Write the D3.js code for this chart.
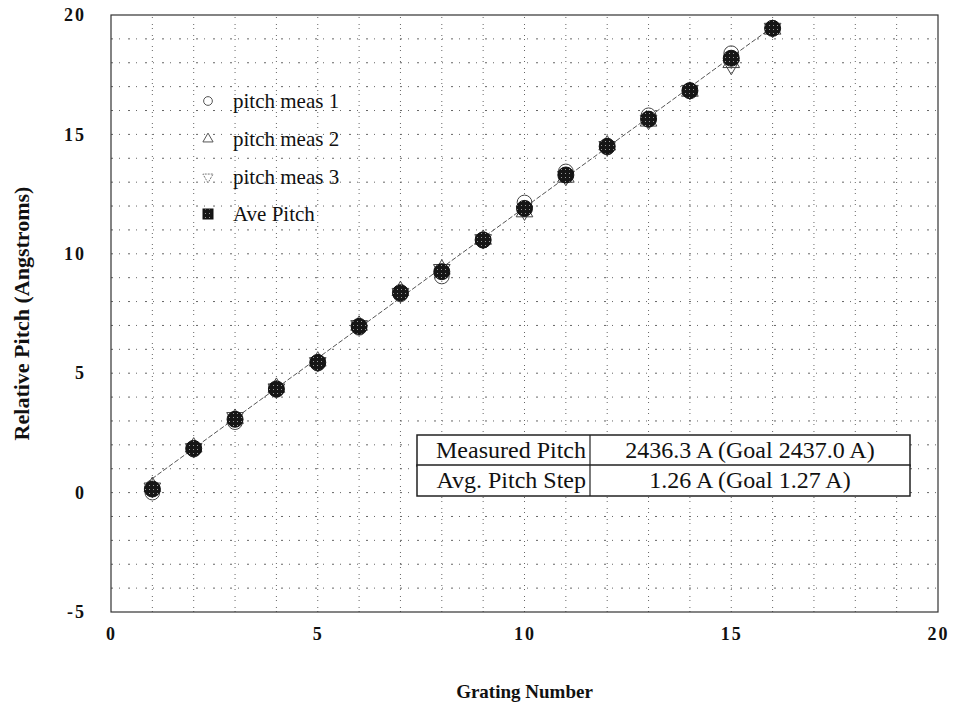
<!DOCTYPE html>
<html>
<head>
<meta charset="utf-8">
<script src="https://cdn.jsdelivr.net/npm/d3@7"></script>
<style>
  body { margin: 0; background: #fff; }
</style>
</head>
<body>
<div id="chart"></div>
<script>
// Grating numbers and measured pitch offsets (Angstroms)
const grating = [1, 2, 3, 4, 5, 6, 7, 8, 9, 10, 11, 12, 13, 14, 15, 16];
const meas1 = [0.0, 1.8, 2.95, 4.3, 5.4, 6.9, 8.3, 9.05, 10.55, 12.15, 13.45, 14.45, 15.8, 16.85, 18.4, 19.45];
const meas2 = [0.25, 1.9, 3.1, 4.4, 5.5, 7.0, 8.45, 9.35, 10.6, 11.75, 13.2, 14.55, 15.55, 16.8, 18.0, 19.4];
const meas3 = [0.2, 1.85, 3.15, 4.35, 5.45, 7.0, 8.35, 9.35, 10.6, 11.8, 13.25, 14.5, 15.6, 16.85, 17.9, 19.45];
const avePitch = [0.15, 1.85, 3.07, 4.34, 5.45, 6.96, 8.37, 9.25, 10.58, 11.9, 13.3, 14.5, 15.64, 16.83, 18.19, 19.44];
// fitted line end points
const fitX = [0.85, 16];
const fitY = [0.4, 19.5];

const xTicks = [0, 5, 10, 15, 20];
const yTicks = [-5, 0, 5, 10, 15, 20];
const legendLabels = ["pitch meas 1", "pitch meas 2", "pitch meas 3", "Ave Pitch"];
const tableRows = [
  ["Measured Pitch", "2436.3 A (Goal 2437.0 A)"],
  ["Avg. Pitch Step", "1.26 A (Goal 1.27 A)"]
];

const serif = "'Liberation Serif', 'Times New Roman', 'DejaVu Serif', serif";
const width = 956, height = 709;
const margin = {top: 15, right: 18, bottom: 97, left: 111};

const svg = d3.select("#chart")
  .append("svg")
    .attr("width", width)
    .attr("height", height)
    .style("font-family", serif);

// speckled fill for the average markers
const defs = svg.append("defs");
const pat = defs.append("pattern")
  .attr("id", "speck")
  .attr("width", 4).attr("height", 4)
  .attr("patternUnits", "userSpaceOnUse");
pat.append("rect").attr("width", 4).attr("height", 4).attr("fill", "#161616");
pat.append("rect").attr("x", 1).attr("y", 1).attr("width", 1).attr("height", 1).attr("fill", "#999");

const x = d3.scaleLinear().domain([0, 20]).range([margin.left, width - margin.right]);
const y = d3.scaleLinear().domain([-5, 20]).range([height - margin.bottom, margin.top]);

// grid, one line per unit
const g = svg.append("g");
g.selectAll(".vgrid")
  .data(d3.range(1, 20))
  .join("line")
    .attr("x1", d => x(d)).attr("x2", d => x(d))
    .attr("y1", y(-5)).attr("y2", y(20))
    .attr("stroke", "#666")
    .attr("stroke-width", 1)
    .attr("stroke-dasharray", "1,3,1,6");
g.selectAll(".hgrid")
  .data(d3.range(-4, 20))
  .join("line")
    .attr("x1", x(0)).attr("x2", x(20))
    .attr("y1", d => y(d)).attr("y2", d => y(d))
    .attr("stroke", "#666")
    .attr("stroke-width", 1)
    .attr("stroke-dasharray", "2,6,1,8");

// frame
svg.append("rect")
  .attr("x", x(0)).attr("y", y(20))
  .attr("width", x(20) - x(0))
  .attr("height", y(-5) - y(20))
  .attr("fill", "none")
  .attr("stroke", "#333")
  .attr("stroke-width", 1.2);

// axes (labels only, the grid carries the ticks)
const xAxis = svg.append("g")
  .attr("transform", `translate(0,${y(-5) + 12})`)
  .call(d3.axisBottom(x).tickValues(xTicks).tickSize(0));
const yAxis = svg.append("g")
  .attr("transform", `translate(${x(0) - 22},0)`)
  .call(d3.axisLeft(y).tickValues(yTicks).tickSize(0).tickFormat(d => d < 0 ? "-" + Math.abs(d) : d));
[xAxis, yAxis].forEach(a => {
  a.attr("font-family", serif);
  a.select(".domain").remove();
  a.selectAll("text")
    .attr("font-weight", "bold")
    .attr("font-size", 18)
    .attr("letter-spacing", 2)
    .attr("fill", "#111");
});

svg.append("text")
  .attr("x", (x(0) + x(20)) / 2)
  .attr("y", 698)
  .attr("text-anchor", "middle")
  .attr("font-weight", "bold")
  .attr("font-size", 19)
  .attr("fill", "#111")
  .text("Grating Number");

svg.append("text")
  .attr("transform", `translate(29,${(y(-5) + y(20)) / 2}) rotate(-90)`)
  .attr("text-anchor", "middle")
  .attr("font-weight", "bold")
  .attr("font-size", 22)
  .attr("fill", "#111")
  .text("Relative Pitch (Angstroms)");

// fit line
svg.append("line")
  .attr("x1", x(fitX[0])).attr("y1", y(fitY[0]))
  .attr("x2", x(fitX[1])).attr("y2", y(fitY[1]))
  .attr("stroke", "#555")
  .attr("stroke-width", 1)
  .attr("stroke-dasharray", "5,2");

// marker shapes
const sym = {
  circle: d3.symbol(d3.symbolCircle, 170),
  tri: d3.symbol(d3.symbolTriangle, 120),
  down: d3.symbol(d3.symbolTriangle, 120)
};

function drawSeries(vals, shape, rot) {
  svg.append("g").selectAll("path")
    .data(grating.map((gn, i) => ({gn: gn, v: vals[i]})))
    .join("path")
      .attr("d", shape)
      .attr("transform", d => `translate(${x(d.gn)},${y(d.v)}) rotate(${rot})`)
      .attr("fill", "none")
      .attr("stroke", "#444")
      .attr("stroke-width", 1);
}
drawSeries(meas1, sym.circle, 0);
drawSeries(meas2, sym.tri, 0);
drawSeries(meas3, sym.down, 180);

svg.append("g").selectAll("circle")
  .data(grating.map((gn, i) => ({gn: gn, v: avePitch[i]})))
  .join("circle")
    .attr("cx", d => x(d.gn))
    .attr("cy", d => y(d.v))
    .attr("r", 8)
    .attr("fill", "url(#speck)")
    .attr("stroke", "#111")
    .attr("stroke-width", 1);

// legend
const legendY = [101, 139, 177, 214];
const leg = svg.append("g");
legendLabels.forEach((lab, i) => {
  const lx = 208, ly = legendY[i];
  if (i === 0) {
    leg.append("path").attr("d", d3.symbol(d3.symbolCircle, 60)())
      .attr("transform", `translate(${lx},${ly})`)
      .attr("fill", "none").attr("stroke", "#555");
  } else if (i === 1) {
    leg.append("path").attr("d", d3.symbol(d3.symbolTriangle, 45)())
      .attr("transform", `translate(${lx},${ly})`)
      .attr("fill", "none").attr("stroke", "#555");
  } else if (i === 2) {
    leg.append("path").attr("d", d3.symbol(d3.symbolTriangle, 45)())
      .attr("transform", `translate(${lx},${ly}) rotate(180)`)
      .attr("fill", "none").attr("stroke", "#777").attr("stroke-dasharray", "2,1");
  } else {
    leg.append("rect")
      .attr("x", lx - 5).attr("y", ly - 5)
      .attr("width", 10).attr("height", 10)
      .attr("fill", "url(#speck)").attr("stroke", "#111");
  }
  leg.append("text")
    .attr("x", 233)
    .attr("y", ly + 7)
    .attr("font-size", 21)
    .attr("fill", "#111")
    .text(lab);
});

// results table
const tLeft = 417, tDiv = 590, tRight = 910;
const rowTop = [435, 465], rowH = 31;
const tbl = svg.append("g");
tableRows.forEach((row, i) => {
  tbl.append("rect")
    .attr("x", tLeft).attr("y", rowTop[i])
    .attr("width", tRight - tLeft).attr("height", rowH)
    .attr("fill", "#fff")
    .attr("stroke", "#222").attr("stroke-width", 1.5);
  tbl.append("line")
    .attr("x1", tDiv).attr("x2", tDiv)
    .attr("y1", rowTop[i]).attr("y2", rowTop[i] + rowH)
    .attr("stroke", "#222").attr("stroke-width", 1.2);
  tbl.append("text")
    .attr("x", tDiv - 4)
    .attr("y", rowTop[i] + 23)
    .attr("text-anchor", "end")
    .attr("font-size", 24)
    .attr("fill", "#111")
    .text(row[0]);
  tbl.append("text")
    .attr("x", (tDiv + tRight) / 2)
    .attr("y", rowTop[i] + 23)
    .attr("text-anchor", "middle")
    .attr("font-size", 24)
    .attr("fill", "#111")
    .text(row[1]);
});
</script>
</body>
</html>
